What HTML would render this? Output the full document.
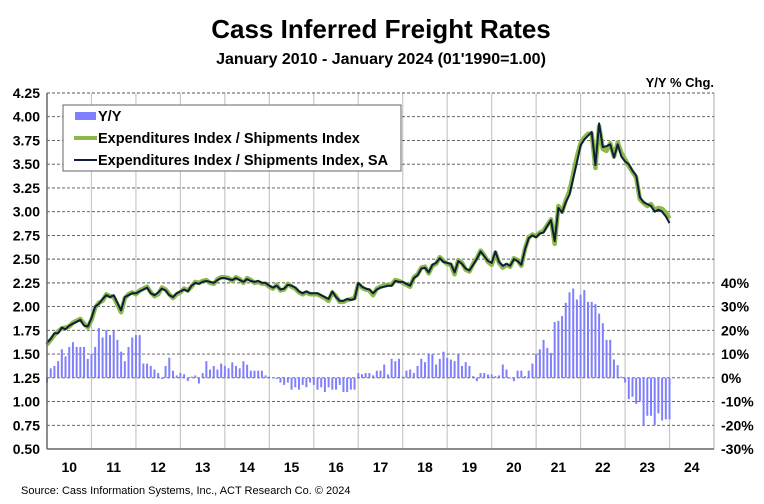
<!DOCTYPE html>
<html><head><meta charset="utf-8"><style>
body{margin:0;background:#fff;font-family:"Liberation Sans",Arial,sans-serif;}
svg text{font-family:"Liberation Sans",Arial,sans-serif;}
</style></head><body>
<svg id="chart" width="764" height="499" viewBox="0 0 764 499" xmlns="http://www.w3.org/2000/svg">
<rect width="764" height="499" fill="#fff"/>
<text x="381" y="38" text-anchor="middle" font-size="26" font-weight="bold" fill="#000">Cass Inferred Freight Rates</text>
<text x="381" y="64" text-anchor="middle" font-size="16" font-weight="bold" fill="#000">January 2010 - January 2024 (01'1990=1.00)</text>
<text x="714" y="87" text-anchor="end" font-size="13" font-weight="bold" fill="#000">Y/Y % Chg.</text>
<g id="grid"></g>
<g id="bars"></g>
<g id="lines"></g>
<g id="axes"></g>
<g>
<rect x="63" y="105" width="338" height="66" fill="#fff" stroke="#666" stroke-width="1"/>
<rect x="75" y="112" width="21" height="8" fill="#8080ff"/>
<text x="98" y="121" font-size="14.5" font-weight="bold">Y/Y</text>
<line x1="74" y1="138" x2="97" y2="138" stroke="#8db84a" stroke-width="4"/>
<text x="98" y="143" font-size="14.5" font-weight="bold">Expenditures Index / Shipments Index</text>
<line x1="74" y1="160" x2="97" y2="160" stroke="#0d1f3c" stroke-width="2"/>
<text x="98" y="165" font-size="14.5" font-weight="bold">Expenditures Index / Shipments Index, SA</text>
</g>
<text x="21" y="494" font-size="11" fill="#000">Source: Cass Information Systems, Inc., ACT Research Co. © 2024</text>
</svg>
<script>
const leftTicks=["0.50","0.75","1.00","1.25","1.50","1.75","2.00","2.25","2.50","2.75","3.00","3.25","3.50","3.75","4.00","4.25"];
const rightTicks=["-30%","-20%","-10%","0%","10%","20%","30%","40%"];
const yearLabels=["10","11","12","13","14","15","16","17","18","19","20","21","22","23","24"];
const saSeries=[
1.62,1.66,1.72,1.72,1.78,1.76,1.80,1.82,1.84,1.86,1.80,1.79,
1.88,2.00,2.03,2.08,2.12,2.10,2.12,2.04,1.96,2.10,2.12,2.14,
2.14,2.16,2.18,2.20,2.14,2.12,2.15,2.19,2.17,2.12,2.10,2.14,
2.16,2.18,2.16,2.22,2.25,2.24,2.26,2.27,2.26,2.25,2.28,2.30,
2.30,2.29,2.28,2.30,2.28,2.26,2.29,2.27,2.26,2.27,2.25,2.25,
2.22,2.20,2.22,2.18,2.19,2.23,2.22,2.20,2.16,2.14,2.16,2.14,
2.14,2.14,2.12,2.10,2.08,2.16,2.10,2.06,2.06,2.08,2.07,2.08,
2.25,2.21,2.19,2.18,2.14,2.18,2.20,2.21,2.22,2.22,2.27,2.26,
2.26,2.24,2.22,2.30,2.33,2.40,2.41,2.36,2.44,2.46,2.51,2.47,
2.46,2.45,2.36,2.48,2.45,2.40,2.38,2.44,2.50,2.58,2.53,2.48,
2.46,2.58,2.47,2.43,2.45,2.43,2.50,2.48,2.44,2.60,2.72,2.75,
2.73,2.77,2.78,2.85,2.91,2.69,3.04,2.99,3.10,3.18,3.35,3.52,
3.70,3.76,3.80,3.84,3.49,3.93,3.68,3.69,3.71,3.57,3.71,3.58,
3.53,3.50,3.43,3.38,3.15,3.10,3.08,3.06,3.00,3.02,3.00,2.95,
2.88];
const nsaSeries=[
1.60,1.65,1.70,1.74,1.77,1.78,1.79,1.83,1.85,1.87,1.82,1.78,
1.86,1.99,2.04,2.06,2.13,2.11,2.10,2.02,1.94,2.09,2.13,2.15,
2.13,2.17,2.19,2.21,2.15,2.11,2.13,2.20,2.18,2.13,2.09,2.13,
2.15,2.19,2.17,2.21,2.26,2.25,2.27,2.28,2.25,2.24,2.29,2.31,
2.31,2.30,2.27,2.31,2.29,2.25,2.30,2.28,2.25,2.26,2.24,2.24,
2.21,2.19,2.23,2.17,2.18,2.24,2.21,2.19,2.15,2.13,2.15,2.13,
2.13,2.13,2.11,2.09,2.06,2.15,2.11,2.05,2.05,2.07,2.08,2.09,
2.24,2.20,2.18,2.17,2.12,2.19,2.21,2.22,2.23,2.23,2.28,2.27,
2.25,2.23,2.21,2.31,2.34,2.41,2.42,2.35,2.43,2.45,2.52,2.48,
2.45,2.44,2.34,2.49,2.46,2.39,2.37,2.45,2.51,2.59,2.54,2.47,
2.44,2.57,2.46,2.41,2.44,2.42,2.51,2.49,2.43,2.61,2.73,2.76,
2.74,2.78,2.80,2.86,2.92,2.66,3.06,3.00,3.12,3.22,3.40,3.58,
3.72,3.78,3.82,3.82,3.46,3.90,3.66,3.64,3.72,3.58,3.73,3.62,
3.55,3.48,3.42,3.36,3.13,3.09,3.06,3.08,3.02,3.04,3.03,2.99,
2.93];
const yoySeries=[
-2,4,5,7,12,9,13,15,13,13,13,8,
10,13,21,17,20,18,20,16,11,7,13,17,
18,18,6,6,5,3.5,2,-0.5,5,8.5,3,1,
2,1.5,-1.4,0.5,1,-2.4,2,7,3.5,5,3.5,6,
5,4,6.5,5,4,7,5.5,3,3,3,3,1,
0.5,0,-0.5,-2,-3,-2,-5,-4,-5,-3,-4,-2,
-3,-5,-4,-6,-4,-5,-5,-3,-6,-6,-5,-5,
2,1.5,2,2,1,3,3,5.6,1.4,8,7,8,
0.5,3,3.5,2,5,8,6.6,10,10,5.6,8,11,
8.4,7.7,7,10,5,6.6,5,0.7,-1.4,2,2,1.4,
1.4,0.7,1,5.6,3.5,-0.3,-1.4,3,3,0.7,3,6,
10,12,16,12.6,10.5,23.5,24,26,31.6,36,37.6,33,
35,37,32,32,31,27,23,16,16,7.7,5.3,0.5,
-2,-9,-8,-11,-10,-20,-16,-16,-20,-15,-18,-17.5,
-17.5];
const NS="http://www.w3.org/2000/svg";
const PL=47,PR=714,PT=93,PB=449;
const yMin=0.5,yMax=4.25;
const yL=v=>PB-(v-yMin)/(yMax-yMin)*(PB-PT);
const yR=p=>yL(1.25+p/40);
const monthW=(PR-PL)/(15*12);
const xM=i=>PL+i*monthW;
function mk(tag,attrs,parent){const e=document.createElementNS(NS,tag);for(const k in attrs)e.setAttribute(k,attrs[k]);parent.appendChild(e);return e;}
const grid=document.getElementById('grid'),axes=document.getElementById('axes');
yearLabels.forEach((lab,k)=>{
  if(k>0){const l=mk('line',{x1:xM(k*12),x2:xM(k*12),y1:PT,y2:PB,stroke:'#c8c8c8','stroke-width':1.2},grid);
  
  }
  const t=mk('text',{x:xM(k*12+6),y:472,'text-anchor':'middle','font-size':14,'font-weight':'bold'},axes);
  t.textContent=lab;
  
  
});
mk('line',{x1:PR,x2:PR,y1:PT,y2:PB,stroke:'#bbb','stroke-width':1.2},grid);
leftTicks.forEach(s=>{
  const v=parseFloat(s),y=yL(v);
  if(v>yMin){const l=mk('line',{x1:PL,x2:PR,y1:y,y2:y,stroke:'#555','stroke-width':0.9,'stroke-dasharray':'3,2'},grid);
  
  }
  const t=mk('text',{x:40,y:y+5,'text-anchor':'end','font-size':14,'font-weight':'bold'},axes);
  t.textContent=s;
  
  
});
rightTicks.forEach(s=>{
  const p=parseFloat(s),y=yR(p);
  const t=mk('text',{x:721,y:y+5,'font-size':14,'font-weight':'bold'},axes);
  t.textContent=s;
  
  
});
mk('line',{x1:PL,x2:PL,y1:PT,y2:PB,stroke:'#666','stroke-width':1.5},axes);
mk('line',{x1:PL,x2:PR,y1:PB,y2:PB,stroke:'#666','stroke-width':1.5},axes);
const bars=document.getElementById('bars');
yoySeries.forEach((p,i)=>{
  const y0=yR(0),y1=yR(p);
  const r=mk('rect',{x:xM(i)-1,y:Math.min(y0,y1),width:2,height:Math.max(0.6,Math.abs(y1-y0)),fill:'#8080ff'},bars);
  
  
});
const lines=document.getElementById('lines');
const pts=a=>a.map((v,i)=>xM(i).toFixed(1)+','+yL(v).toFixed(1)).join(' ');
const g=mk('polyline',{points:pts(nsaSeries),fill:'none',stroke:'#8db84a','stroke-width':4.5,'stroke-linejoin':'round'},lines);


const s=mk('polyline',{points:pts(saSeries),fill:'none',stroke:'#0d1f3c','stroke-width':2,'stroke-linejoin':'round'},lines);


</script>
</body></html>
